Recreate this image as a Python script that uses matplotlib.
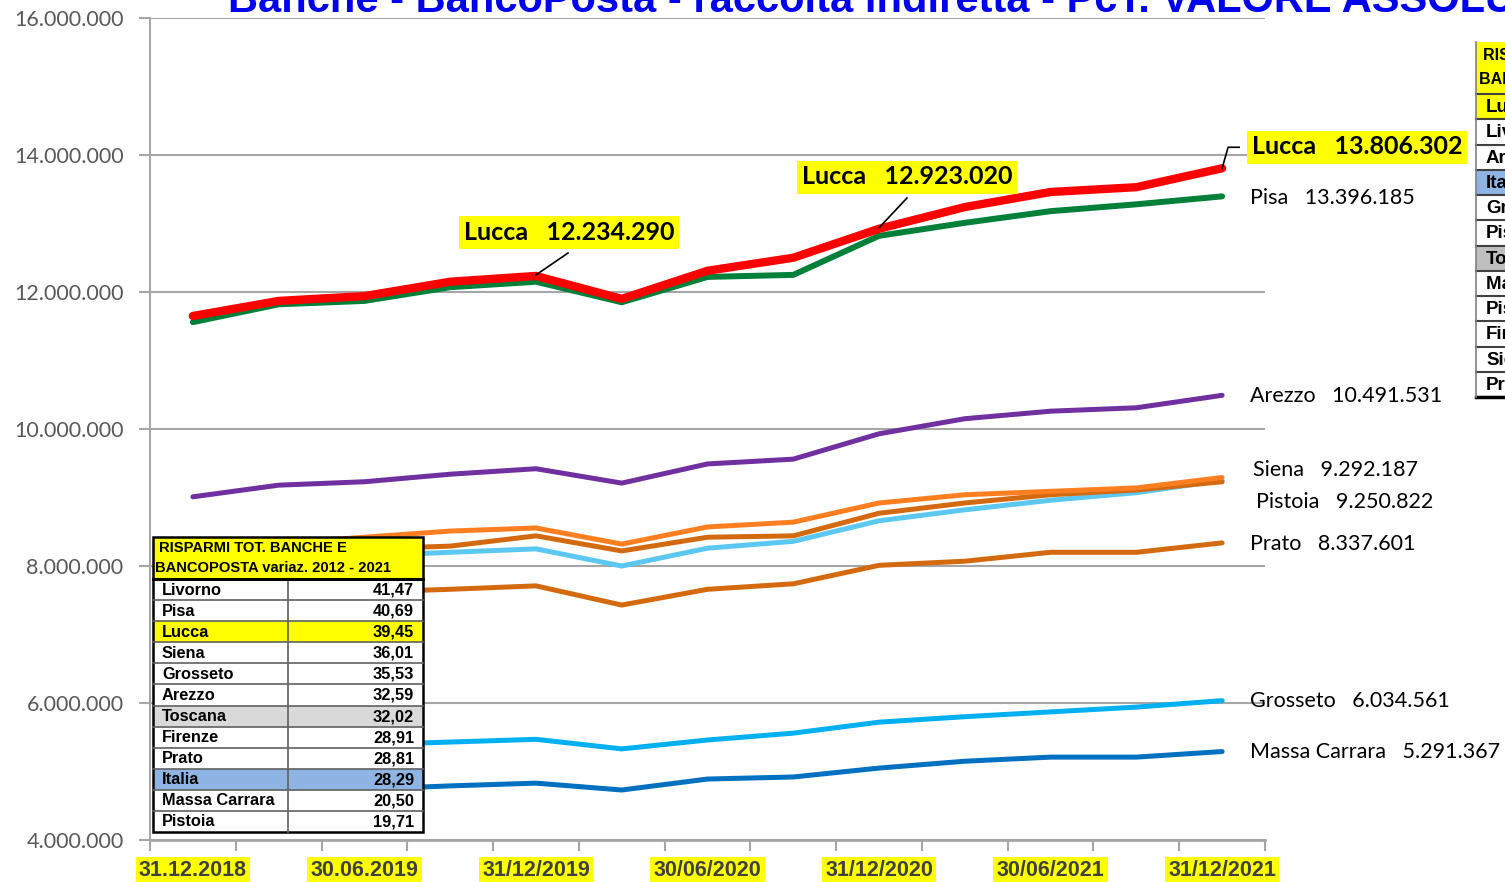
import matplotlib
matplotlib.use("Agg")
import matplotlib.pyplot as plt
from matplotlib.patches import Rectangle
import numpy as np

# ---------------- data ----------------
categorie = list(range(13))  # quarterly points 31.12.2018 .. 31.12.2021
etichette_x = ["31.12.2018", "", "30.06.2019", "", "31/12/2019", "", "30/06/2020", "",
               "31/12/2020", "", "30/06/2021", "", "31/12/2021"]

lucca = [11650000, 11870000, 11940000, 12150000, 12234290, 11900000, 12310000, 12500000,
         12923020, 13240000, 13460000, 13530000, 13806302]
pisa = [11560000, 11820000, 11870000, 12070000, 12150000, 11850000, 12220000, 12250000,
        12820000, 13010000, 13180000, 13280000, 13396185]
arezzo = [9010000, 9180000, 9230000, 9340000, 9420000, 9210000, 9490000, 9560000,
          9930000, 10150000, 10260000, 10310000, 10491531]
siena = [8200000, 8330000, 8420000, 8510000, 8555000, 8320000, 8570000, 8640000,
         8920000, 9040000, 9090000, 9140000, 9292187]
serie_senza_etichetta = [8050000, 8150000, 8250000, 8290000, 8440000, 8220000, 8420000, 8440000,
                         8770000, 8920000, 9040000, 9110000, 9230000]
pistoia = [7950000, 8080000, 8150000, 8200000, 8250000, 8000000, 8260000, 8360000,
           8660000, 8820000, 8960000, 9070000, 9250822]
prato = [7450000, 7550000, 7620000, 7660000, 7710000, 7430000, 7660000, 7740000,
         8010000, 8070000, 8200000, 8200000, 8337601]
grosseto = [5200000, 5300000, 5390000, 5430000, 5470000, 5330000, 5460000, 5560000,
            5720000, 5800000, 5870000, 5940000, 6034561]
massa_carrara = [4600000, 4680000, 4740000, 4790000, 4830000, 4730000, 4890000, 4920000,
                 5050000, 5150000, 5210000, 5210000, 5291367]

y_ticks = [4000000, 6000000, 8000000, 10000000, 12000000, 14000000, 16000000]

tabella_nomi = ["Livorno", "Pisa", "Lucca", "Siena", "Grosseto", "Arezzo", "Toscana",
                "Firenze", "Prato", "Italia", "Massa Carrara", "Pistoia"]
tabella_valori = [41.47, 40.69, 39.45, 36.01, 35.53, 32.59, 32.02, 28.91, 28.81, 28.29, 20.50, 19.71]
tabella_titolo = ["RISPARMI TOT. BANCHE E", "BANCOPOSTA variaz. 2012 - 2021"]

tabella2_nomi = ["Lucca", "Livorno", "Arezzo", "Italia", "Grosseto", "Pisa", "Toscana",
                 "Massa Carrara", "Pistoia", "Firenze", "Siena", "Prato"]
tabella2_titolo = ["RISPARMI TOT.", "BANCHE E BANCOPOSTA"]

titolo = "Banche - BancoPosta - raccolta indiretta - PcT. VALORE ASSOLUTO"


def fmt_it(v):
    return f"{v:,}".replace(",", ".")


# ---------------- figure ----------------
W, H = 1505, 882
fig = plt.figure(figsize=(W / 100, H / 100), dpi=100)
fig.patch.set_facecolor("white")

ax = fig.add_axes([150 / W, 1 - 840 / H, 1115 / W, 822 / H])
ax.set_xlim(-0.5, 12.5)
ax.set_ylim(4000000, 16000000)
grey = "#A6A6A6"
for s in ["top", "right"]:
    ax.spines[s].set_visible(False)
ax.spines["left"].set_color(grey)
ax.spines["left"].set_linewidth(1.5)
ax.spines["bottom"].set_color(grey)
ax.spines["bottom"].set_linewidth(2)

ax.set_yticks(y_ticks)
ax.set_yticklabels([fmt_it(v) for v in y_ticks], fontfamily="Lato", fontsize=15.5, color="#595959")
ax.tick_params(axis="y", length=8, width=1.5, color=grey, pad=11)
ax.yaxis.grid(True, color=grey, linewidth=1.5)
ax.set_axisbelow(True)

ax.set_xticks(np.arange(-0.5, 13, 1))
ax.set_xticklabels([])
ax.tick_params(axis="x", length=8, width=1.5, color=grey)

xtr = ax.get_xaxis_transform()
for i, lab in zip(categorie, etichette_x):
    if lab:
        ax.text(i, -31 / 822, lab, transform=xtr, ha="center", va="center",
                fontsize=15.5, fontweight="bold", color="#404040",
                fontfamily="Liberation Sans",
                bbox=dict(boxstyle="square,pad=0.15", fc="#FFFF00", ec="none"), clip_on=False)

series = [
    (massa_carrara, "#0070C0", 3.6),
    (grosseto, "#00B0F0", 3.6),
    (prato, "#D46A10", 3.6),
    (pistoia, "#5CC8F2", 3.6),
    (serie_senza_etichetta, "#D46A10", 3.6),
    (siena, "#FF7F20", 3.6),
    (arezzo, "#7030A0", 3.6),
    (pisa, "#008038", 4.3),
    (lucca, "#FF0000", 6.0),
]
for k, (vals, col, lw) in enumerate(series):
    ax.plot(categorie, vals, color=col, linewidth=lw, solid_capstyle="round",
            solid_joinstyle="round", zorder=3 + k)

# ---------------- overlay in pixel coords ----------------
ov = fig.add_axes([0, 0, 1, 1], zorder=5)
ov.set_xlim(0, W)
ov.set_ylim(H, 0)
ov.axis("off")
ov.patch.set_alpha(0)


def px(x, y):
    return ov.transData.inverted().transform(ax.transData.transform((x, y)))


# title (cut by the top edge, as in the reference)
ov.text(228, 11.5, titolo, ha="left", va="baseline", fontsize=30, fontweight="bold",
        color="#0000F0", fontfamily="Liberation Sans", clip_on=False)

# Lucca callouts
box = dict(boxstyle="square,pad=0.2", fc="#FFFF00", ec="none")
for idx, (cx, cy, lx, ly) in [(4, (569, 232, 568, 253)), (8, (907, 177, 907, 198))]:
    ov.text(cx, cy, f"Lucca   {fmt_it(lucca[idx])}", ha="center", va="center",
            fontsize=18, fontweight="bold", fontfamily="Lato", color="black", bbox=box)
    p = px(idx, lucca[idx])
    ov.plot([lx, p[0]], [ly, p[1] - 1], color="black", lw=1.2)

ov.text(1357, 147, f"Lucca   {fmt_it(lucca[12])}", ha="center", va="center",
        fontsize=18, fontweight="bold", fontfamily="Lato", color="black", bbox=box)
p = px(12, lucca[12])
ov.plot([p[0], p[0] + 6, p[0] + 17], [p[1], p[1] - 21, p[1] - 21], color="black", lw=1.2)

# end labels
end_labels = [
    ("Pisa", pisa, 1250, 198),
    ("Arezzo", arezzo, 1250, 396),
    ("Siena", siena, 1253, 470),
    ("Pistoia", pistoia, 1256, 502),
    ("Prato", prato, 1250, 544),
    ("Grosseto", grosseto, 1250, 701),
    ("Massa Carrara", massa_carrara, 1250, 752),
]
for name, vals, x, y in end_labels:
    ov.text(x, y, f"{name}   {fmt_it(vals[-1])}", ha="left", va="center",
            fontsize=15.5, fontfamily="Lato", color="black")

# ---------------- left table ----------------
def row_color(n):
    return {"Lucca": "#FFFF00", "Toscana": "#D9D9D9", "Italia": "#8DB4E2"}.get(n, "white")


x0, x1, xd = 153, 423, 288
ht, hb = 537, 579
rh = (832 - hb) / len(tabella_nomi)
ov.add_patch(Rectangle((x0, hb), x1 - x0, 832 - hb, fc="white", ec="none"))
ov.add_patch(Rectangle((x0, ht), x1 - x0, hb - ht, fc="#FFFF00", ec="none"))
for i, (n, v) in enumerate(zip(tabella_nomi, tabella_valori)):
    yt = hb + i * rh
    ov.add_patch(Rectangle((x0, yt), x1 - x0, rh, fc=row_color(n), ec="none"))
    if i > 0:
        ov.plot([x0, x1], [yt, yt], color="#606060", lw=1.2)
    ov.text(162, yt + rh / 2 + 0.5, n, ha="left", va="center", fontsize=11.8, fontweight="bold",
            fontfamily="Liberation Sans", color="black")
    ov.text(414, yt + rh / 2 + 0.5, f"{v:.2f}".replace(".", ","), ha="right", va="center",
            fontsize=11.8, fontweight="bold", fontfamily="Liberation Sans", color="black")
ov.plot([xd, xd], [hb, 832], color="#606060", lw=1.2)
ov.plot([x0, x1], [hb, hb], color="black", lw=2.2)
ov.add_patch(Rectangle((x0, ht), x1 - x0, 832 - ht, fc="none", ec="black", lw=1.8))
ov.text(159, 548, tabella_titolo[0], ha="left", va="center", fontsize=10.6, fontweight="bold",
        fontfamily="Liberation Sans", color="black")
ov.text(155, 568, tabella_titolo[1], ha="left", va="center", fontsize=10.6, fontweight="bold",
        fontfamily="Liberation Sans", color="black")

# ---------------- right table (cut by the figure edge) ----------------
def row_color2(n):
    return {"Lucca": "#FFFF00", "Toscana": "#BFBFBF", "Italia": "#8DB4E2"}.get(n, "white")


rx0, rx1 = 1476, 1700
rht, rhb, rbot = 42, 94, 397
rrh = (rbot - rhb) / len(tabella2_nomi)
ov.add_patch(Rectangle((rx0, rht), rx1 - rx0, rhb - rht, fc="#FFFF00", ec="none", clip_on=False))
for i, n in enumerate(tabella2_nomi):
    yt = rhb + i * rrh
    ov.add_patch(Rectangle((rx0, yt), rx1 - rx0, rrh, fc=row_color2(n), ec="none", clip_on=False))
    ov.plot([rx0, rx1], [yt, yt], color="#404040", lw=1.5, clip_on=False)
    ov.text(1486, yt + rrh / 2 + 1, n, ha="left", va="center", fontsize=13.5, fontweight="bold",
            fontfamily="Liberation Sans", color="black", clip_on=False)
ov.plot([rx0, rx1], [rbot, rbot], color="black", lw=2.5, clip_on=False)
ov.plot([rx0, rx0], [rht, rbot], color="#808080", lw=1.2, clip_on=False)
ov.text(1483, 56, tabella2_titolo[0], ha="left", va="center", fontsize=11.5, fontweight="bold",
        fontfamily="Liberation Sans", color="black", clip_on=False)
ov.text(1479, 80, tabella2_titolo[1], ha="left", va="center", fontsize=11.5, fontweight="bold",
        fontfamily="Liberation Sans", color="black", clip_on=False)

fig.savefig("out.png", dpi=100, facecolor="white")
